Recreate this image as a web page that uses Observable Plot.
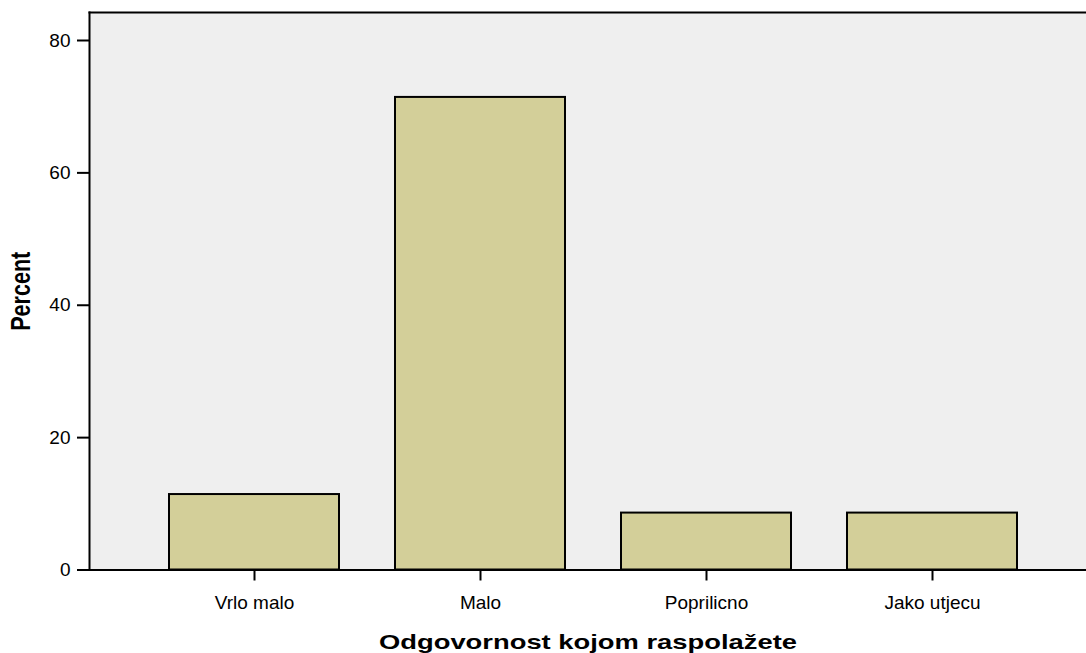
<!DOCTYPE html>
<html><head><meta charset="utf-8">
<script src="https://cdn.jsdelivr.net/npm/d3@7"></script>
<script src="https://cdn.jsdelivr.net/npm/@observablehq/plot@0.6"></script>
<style>html,body{margin:0;padding:0;background:#fff;overflow:hidden}</style>
</head><body><div id="chart"></div>
<script>
const categories = ["Vrlo malo", "Malo", "Poprilicno", "Jako utjecu"];
const percent = [11.4, 71.4, 8.6, 8.6];
const yTicks = [0, 20, 40, 60, 80];
const xTitle = "Odgovornost kojom raspolažete";
const yTitle = "Percent";

const data = categories.map((c, i) => ({category: c, percent: percent[i]}));

const chart = Plot.plot({
  width: 1086, height: 653,
  marginLeft: 89, marginRight: 0, marginTop: 12, marginBottom: 83.5,
  style: {fontFamily: "'Liberation Sans', Arial, sans-serif", fontSize: "18px", background: "#fff", color: "#000"},
  x: {domain: categories, range: [167.7, 1019], paddingInner: 0.247, paddingOuter: 0},
  y: {domain: [0, 84.23]},
  marks: [
    Plot.frame({fill: "#efefef", stroke: null}),
    Plot.barY(data, {x: "category", y: "percent", fill: "#d3cf99", stroke: "#000", strokeWidth: 2}),
    Plot.ruleY([0], {stroke: "#000", strokeWidth: 2}),
    Plot.frame({anchor: "left", stroke: "#000", strokeWidth: 2}),
    Plot.frame({anchor: "top", stroke: "#000", strokeWidth: 2}),
    Plot.axisX({tickSize: 11, tickPadding: 14, strokeWidth: 2, fontSize: 19, label: xTitle, labelAnchor: "center", labelArrow: false, labelOffset: 79}),
    Plot.axisY({ticks: yTicks, tickSize: 12, tickPadding: 7, strokeWidth: 2, fontSize: 19, label: yTitle, labelAnchor: "center", labelArrow: false, labelOffset: 79.6})
  ]
});
document.getElementById("chart").appendChild(chart);

const svg = d3.select(chart);
svg.select('g[aria-label="x-axis label"] text')
  .attr("font-weight", "bold").attr("font-size", 20.5)
  .attr("textLength", 418).attr("lengthAdjust", "spacingAndGlyphs");
svg.select('g[aria-label="y-axis label"] text')
  .attr("font-weight", "bold").attr("font-size", 28)
  .attr("textLength", 79).attr("lengthAdjust", "spacingAndGlyphs");
</script>
</body></html>
